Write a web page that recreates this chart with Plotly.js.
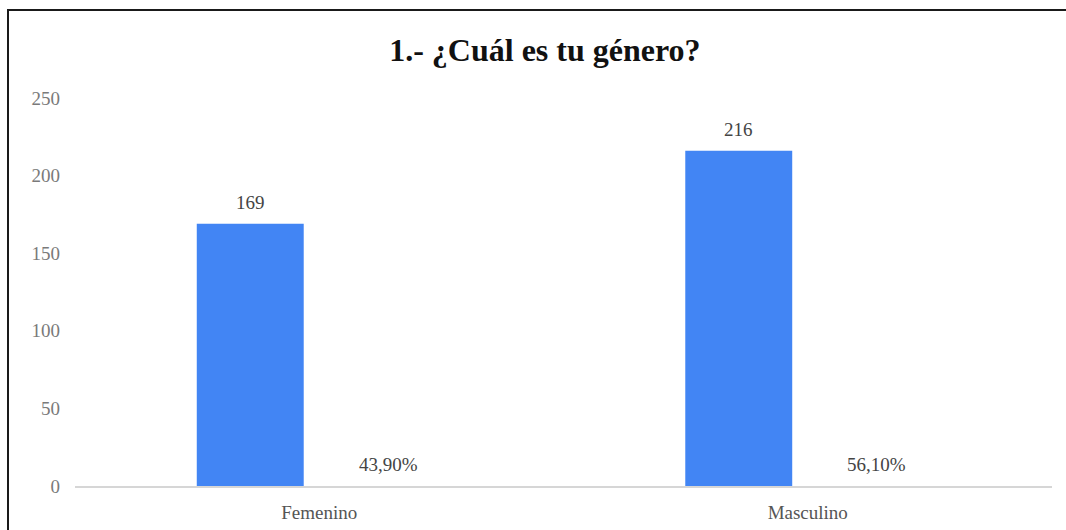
<!DOCTYPE html>
<html>
<head>
<meta charset="utf-8">
<script src="https://cdn.plot.ly/plotly-3.0.1.min.js"></script>
<style>
  html, body { margin: 0; padding: 0; background: #ffffff; width: 1066px; height: 530px; overflow: hidden; }
  #frame { position: absolute; left: 7px; top: 9px; width: 1059px; height: 521px;
           border-top: 2px solid #1a1a1a; border-left: 2px solid #1a1a1a; box-sizing: border-box; }
  #chart { width: 1057px; height: 519px; }
</style>
</head>
<body>
<div id="frame"><div id="chart"></div></div>
<script>
const categories = ["Femenino", "Masculino"];
const counts = [169, 216];
const shares = [0.439, 0.561];
const titleText = "1.- ¿Cuál es tu género?";
const yTicks = [0, 50, 100, 150, 200, 250];

const serif = "Liberation Serif, Times New Roman, serif";
const bargap = 0.435;
const slotOffset = (1 - bargap) / 4; // centre of each of the two bars in a group, in category units

const traces = [
  {
    type: "bar",
    x: categories,
    y: counts,
    marker: { color: "#4285F4" },
    hoverinfo: "none"
  },
  {
    type: "bar",
    x: categories,
    y: shares,
    marker: { color: "rgba(0,0,0,0)" },
    hoverinfo: "none"
  }
];

const fmtPct = v => (v * 100).toFixed(2).replace(".", ",") + "%";

const annotations = [];
categories.forEach((c, i) => {
  annotations.push({
    xref: "x", yref: "y", x: i - slotOffset, y: counts[i],
    text: String(counts[i]), showarrow: false,
    xanchor: "center", yanchor: "bottom", yshift: 9,
    font: { family: serif, size: 19, color: "#444444" }
  });
  annotations.push({
    xref: "x", yref: "y", x: i + slotOffset, y: shares[i],
    text: fmtPct(shares[i]), showarrow: false,
    xanchor: "center", yanchor: "bottom", yshift: 8,
    font: { family: serif, size: 19, color: "#444444" }
  });
});

const layout = {
  width: 1057,
  height: 519,
  margin: { l: 66, r: 14, t: 87, b: 44 },
  paper_bgcolor: "#ffffff",
  plot_bgcolor: "#ffffff",
  showlegend: false,
  barmode: "group",
  bargap: bargap,
  bargroupgap: 0.225,
  annotations: annotations,
  title: {
    text: "<b>" + titleText + "</b>",
    font: { family: serif, size: 32, color: "#111111" },
    xref: "container", x: 0.507, xanchor: "center",
    yref: "container", y: 0.925, yanchor: "middle"
  },
  xaxis: {
    type: "category",
    showline: true,
    linecolor: "#d6d6d6",
    linewidth: 2,
    showgrid: false,
    ticks: "",
    ticklabelstandoff: 8,
    tickfont: { family: serif, size: 19, color: "#555555" }
  },
  yaxis: {
    range: [0, 250],
    tickvals: yTicks,
    ticktext: yTicks.map(String),
    showgrid: false,
    zeroline: false,
    showline: false,
    ticks: "",
    ticklabelstandoff: 14,
    tickfont: { family: serif, size: 19, color: "#7a7a7a" }
  }
};

Plotly.newPlot("chart", traces, layout, { displayModeBar: false, staticPlot: true });
</script>
</body>
</html>
